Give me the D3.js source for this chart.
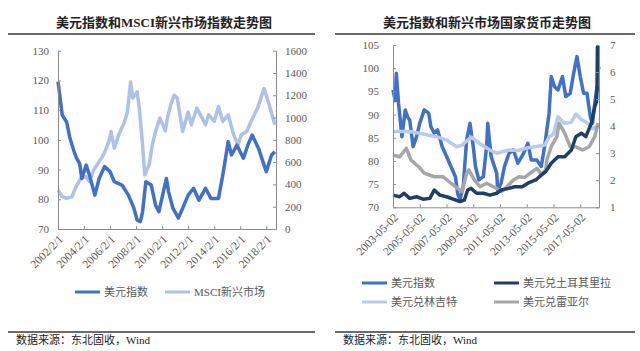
<!DOCTYPE html>
<html><head><meta charset="utf-8">
<script src="https://cdn.jsdelivr.net/npm/d3@7"></script>
<style>
body{margin:0;background:#fff;}
svg{display:block;}
</style></head>
<body>
<svg id="c" width="640" height="351"></svg>
<script>
// ---------------- Left chart data ----------------
const leftTitle = "美元指数和MSCI新兴市场指数走势图";
const dxyLDates = ["2002-02","2002-06","2002-10","2003-01","2003-05","2003-07","2003-10","2003-12","2004-04","2004-07","2004-12","2005-04","2005-09","2006-02","2006-06","2007-01","2007-07","2007-12","2008-03","2008-06","2008-08","2008-11","2009-04","2009-08","2009-11","2010-06","2010-08","2010-12","2011-05","2011-09","2012-02","2012-07","2012-12","2013-06","2013-11","2014-03","2014-06","2014-10","2015-03","2015-06","2015-11","2016-05","2016-09","2017-01","2017-07","2017-11","2018-02","2018-07","2018-10"];
const dxyLValues = [119.6,108.3,106,100.6,96,94,92,87,91.5,88.2,81.4,87,91,89.3,85.9,84.8,81.4,77,73,72.5,75.8,85.9,84.8,78,75.8,87,82.5,77,73.7,77,81.4,83.7,79.7,83.7,80.3,80.3,80.3,88.2,99.4,94.9,98.2,93.8,98.2,101.6,97.1,92.6,89.3,94.9,96];
const msciDates = ["2002-02","2002-06","2002-10","2003-03","2003-06","2003-11","2004-04","2004-07","2004-11","2005-04","2005-08","2006-01","2006-03","2006-06","2006-10","2007-03","2007-06","2007-09","2007-11","2008-03","2008-05","2008-08","2008-10","2009-02","2009-05","2009-08","2009-12","2010-05","2010-07","2010-10","2011-01","2011-04","2011-09","2012-02","2012-05","2012-10","2013-03","2013-06","2013-09","2014-02","2014-06","2014-10","2015-03","2015-08","2015-12","2016-03","2016-08","2016-12","2017-06","2017-12","2018-04","2018-10"];
const msciValues = [350,290,275,290,365,455,470,425,530,605,665,785,875,725,845,950,1050,1320,1175,1230,1085,755,485,575,755,875,995,880,1000,1115,1200,1175,875,1050,935,1085,995,935,1025,965,1100,965,1025,845,755,845,875,965,1085,1260,1140,935];
const leftTicksX = ["2002-02-01","2004-02-01","2006-02-01","2008-02-01","2010-02-01","2012-02-01","2014-02-01","2016-02-01","2018-02-01"];
const leftTicksY = [70,80,90,100,110,120,130];
const leftTicksY2 = [0,200,400,600,800,1000,1200,1400,1600];
const leftLegend = ["美元指数","MSCI新兴市场"];

// ---------------- Right chart data ----------------
const rightTitle = "美元指数和新兴市场国家货币走势图";
const dxyRDates = ["2003-05","2003-07","2003-08","2003-10","2004-01","2004-04","2004-06","2004-08","2004-11","2005-02","2005-05","2005-09","2006-01","2006-03","2006-06","2006-09","2007-01","2007-05","2007-09","2008-01","2008-03","2008-05","2008-08","2008-11","2009-02","2009-05","2009-07","2009-10","2010-02","2010-05","2010-06","2010-09","2011-02","2011-03","2011-06","2011-09","2012-01","2012-05","2012-09","2013-02","2013-06","2013-09","2014-02","2014-06","2014-09","2015-01","2015-03","2015-06","2015-09","2016-01","2016-04","2016-08","2016-11","2017-02","2017-05","2017-08","2017-11","2018-02","2018-04","2018-06","2018-08","2018-09"];
const dxyRValues = [95.3,93,98.9,92.4,85.2,91,89.5,88.8,83.1,85.2,88.1,91,90.3,87.4,86,86.7,83.1,81,78.8,76.6,73,71.6,74.5,84.5,88.1,83.1,78.8,75.9,76.6,83.1,88.1,81,77.3,73.7,75.2,78.8,81.6,82.4,79.5,81.6,83.8,80.2,80.2,78.8,83.1,90.3,98.2,96,95.3,98.2,93.9,94.6,98.9,102.5,98.2,94.6,94.6,89.5,88.1,92.4,96,95];
const tryDates = ["2003-05","2003-11","2004-03","2004-08","2005-02","2005-08","2006-02","2006-06","2006-11","2007-05","2007-11","2008-05","2008-09","2008-12","2009-03","2009-08","2010-02","2010-08","2011-02","2011-06","2012-01","2012-06","2013-01","2013-06","2014-01","2014-06","2014-10","2015-03","2015-09","2016-03","2016-09","2017-01","2017-06","2017-10","2018-03","2018-06","2018-07-15","2018-08-01","2018-08-13","2018-08-28","2018-09-20"];
const tryValues = [1.45,1.39,1.52,1.33,1.39,1.30,1.33,1.64,1.45,1.39,1.30,1.21,1.27,1.64,1.70,1.52,1.52,1.45,1.52,1.64,1.70,1.76,1.76,1.89,2.01,2.19,2.32,2.63,2.87,2.87,3.12,3.61,3.74,3.61,4.11,4.72,4.9,5.3,6.94,6.0,6.2];
const myrDates = ["2003-05","2004-08","2005-08","2006-08","2007-05","2008-02","2008-07","2009-03","2009-11","2010-08","2011-02","2012-01","2012-09","2013-06","2014-02","2014-09","2015-01","2015-05","2015-09","2016-03","2016-09","2017-01","2017-06","2017-12","2018-04","2018-09"];
const myrValues = [3.80,3.80,3.71,3.61,3.49,3.24,3.30,3.60,3.35,3.12,3.00,3.12,3.10,3.20,3.25,3.30,3.60,3.70,4.35,4.10,4.15,4.45,4.25,4.10,3.90,4.05];
const brlDates = ["2003-05","2003-11","2004-05","2004-09","2005-04","2005-09","2006-06","2007-02","2007-09","2008-03","2008-07","2008-11","2009-01","2009-06","2009-11","2010-05","2010-11","2011-02","2011-06","2011-11","2012-05","2012-10","2013-03","2013-08","2014-02","2014-06","2014-10","2014-11","2015-03","2015-08","2015-10","2016-03","2016-08","2017-01","2017-07","2018-01","2018-06","2018-09"];
const brlValues = [2.93,2.87,3.18,2.75,2.50,2.26,2.13,2.13,1.89,1.70,1.58,2.26,2.38,2.01,1.76,1.89,1.76,1.70,1.58,1.75,2.01,2.13,2.10,2.26,2.44,2.22,2.38,2.75,3.24,3.61,4.11,3.74,3.24,3.24,3.12,3.24,3.61,4.11];
const rightTicksX = ["2003-05-02","2005-05-02","2007-05-02","2009-05-02","2011-05-02","2013-05-02","2015-05-02","2017-05-02"];
const rightTicksY = [70,75,80,85,90,95,100,105];
const rightTicksY2 = [1,2,3,4,5,6,7];
const rightLegend = ["美元指数","美元兑土耳其里拉","美元兑林吉特","美元兑雷亚尔"];
const sourceText = "数据来源：东北固收，Wind";

// ---------------- Helpers ----------------
const pDay = d3.timeParse("%Y-%m-%d"), pMon = d3.timeParse("%Y-%m");
const parse = s => pDay(s) || pMon(s);
const zip = (ds, vs) => ds.map((d,i)=>({date:parse(d), v:vs[i]}));

const C = {dxy:"#4070c8", msci:"#adc2e6", tr:"#1f3f6b", myr:"#b8cbec", brl:"#a6a6a6", axis:"#8c8c8c", txt:"#595959"};
const numFont = "'Liberation Serif', 'Noto Sans CJK SC', serif";
const cjkFont = "'Liberation Serif', 'Noto Sans CJK SC', serif";
const LW = 3.5;

const svg = d3.select("#c");

function header(title, cx, x0, x1){
  svg.append("text").attr("x",cx).attr("y",27).attr("text-anchor","middle")
    .attr("font-family",cjkFont).attr("font-size",13).attr("font-weight","bold").attr("fill","#222").text(title);
  svg.append("line").attr("x1",x0).attr("x2",x1).attr("y1",34).attr("y2",34).attr("stroke","#3a3a3a").attr("stroke-width",1.5);
  svg.append("line").attr("x1",x0).attr("x2",x1).attr("y1",332).attr("y2",332).attr("stroke","#3a3a3a").attr("stroke-width",1.5);
  svg.append("text").attr("x",x0+8).attr("y",344).attr("font-family",cjkFont).attr("font-size",11).attr("fill","#222").text(sourceText);
}

function yAxes(g, yl, yr, tl, tr, xl, xr, padL, padR){
  const al = g.append("g").attr("transform",`translate(${xl},0)`)
    .call(d3.axisLeft(yl).tickValues(tl).tickFormat(d3.format("d")).tickSizeInner(-3).tickSizeOuter(0).tickPadding(padL));
  const ar = g.append("g").attr("transform",`translate(${xr},0)`)
    .call(d3.axisRight(yr).tickValues(tr).tickFormat(d3.format("d")).tickSizeInner(-3).tickSizeOuter(0).tickPadding(padR));
  [al,ar].forEach(a=>{
    a.select(".domain").attr("stroke",C.axis);
    a.selectAll(".tick line").attr("stroke",C.axis);
    a.selectAll("text").attr("font-family",numFont).attr("font-size",11).attr("fill",C.txt);
  });
}

function xAxis(g, x, ticks, fmt, y){
  const a = g.append("g").attr("transform",`translate(0,${y})`)
    .call(d3.axisBottom(x).tickValues(ticks.map(parse)).tickSizeInner(-3).tickSizeOuter(0).tickFormat(""));
  a.select(".domain").attr("stroke",C.axis);
  a.selectAll(".tick line").attr("stroke",C.axis);
  g.selectAll(null).data(ticks).enter().append("text")
    .attr("transform",d=>`translate(${x(parse(d))+3},${y+8}) rotate(-45)`)
    .attr("text-anchor","end").attr("dy","0.35em")
    .attr("font-family",numFont).attr("font-size",11.5).attr("fill",C.txt)
    .text(d=>fmt(parse(d)));
}

function drawLine(g, data, x, y, color, w){
  g.append("path").datum(data).attr("fill","none").attr("stroke",color).attr("stroke-width",w)
    .attr("stroke-linejoin","round").attr("d",d3.line().x(d=>x(d.date)).y(d=>y(d.v)));
}

function legendItem(g, x, y, color, label){
  g.append("line").attr("x1",x).attr("x2",x+25).attr("y1",y).attr("y2",y).attr("stroke",color).attr("stroke-width",3);
  g.append("text").attr("x",x+29).attr("y",y).attr("dy","0.35em").attr("font-family",cjkFont)
    .attr("font-size",11).attr("fill",C.txt).text(label);
}

// ---------------- Left chart ----------------
header(leftTitle, 164, 8, 315);
const gl = svg.append("g");
const xL = d3.scaleTime().domain([parse("2002-02-01"), parse("2018-11-01")]).range([58,276]);
const yL = d3.scaleLinear().domain([70,130]).range([229,50.7]);
const yL2 = d3.scaleLinear().domain([0,1600]).range([229,50.7]);
drawLine(gl, zip(msciDates,msciValues), xL, yL2, C.msci, LW);
drawLine(gl, zip(dxyLDates,dxyLValues), xL, yL, C.dxy, LW);
yAxes(gl, yL, yL2, leftTicksY, leftTicksY2, 58, 276, 9, 9);
xAxis(gl, xL, leftTicksX, d3.timeFormat("%Y/%-m/%-d"), 229);
legendItem(gl, 75, 292, C.dxy, leftLegend[0]);
legendItem(gl, 165, 292, C.msci, leftLegend[1]);

// ---------------- Right chart ----------------
header(rightTitle, 487, 335, 635);
const gr = svg.append("g");
const xR = d3.scaleTime().domain([parse("2003-05-02"), parse("2018-09-25")]).range([393,599]);
const yR = d3.scaleLinear().domain([70,105]).range([207.3,45]);
const yR2 = d3.scaleLinear().domain([1,7]).range([207.3,45]);
drawLine(gr, zip(dxyRDates,dxyRValues), xR, yR, C.dxy, LW);
drawLine(gr, zip(myrDates,myrValues), xR, yR2, C.myr, LW);
drawLine(gr, zip(brlDates,brlValues), xR, yR2, C.brl, LW);
drawLine(gr, zip(tryDates,tryValues), xR, yR2, C.tr, LW);
yAxes(gr, yR, yR2, rightTicksY, rightTicksY2, 393, 599, 14, 11);
xAxis(gr, xR, rightTicksX, d3.timeFormat("%Y-%m-%d"), 207.3);
legendItem(gr, 362, 283, C.dxy, rightLegend[0]);
legendItem(gr, 494, 283, C.tr, rightLegend[1]);
legendItem(gr, 362, 302, C.myr, rightLegend[2]);
legendItem(gr, 494, 302, C.brl, rightLegend[3]);
</script>
</body></html>
